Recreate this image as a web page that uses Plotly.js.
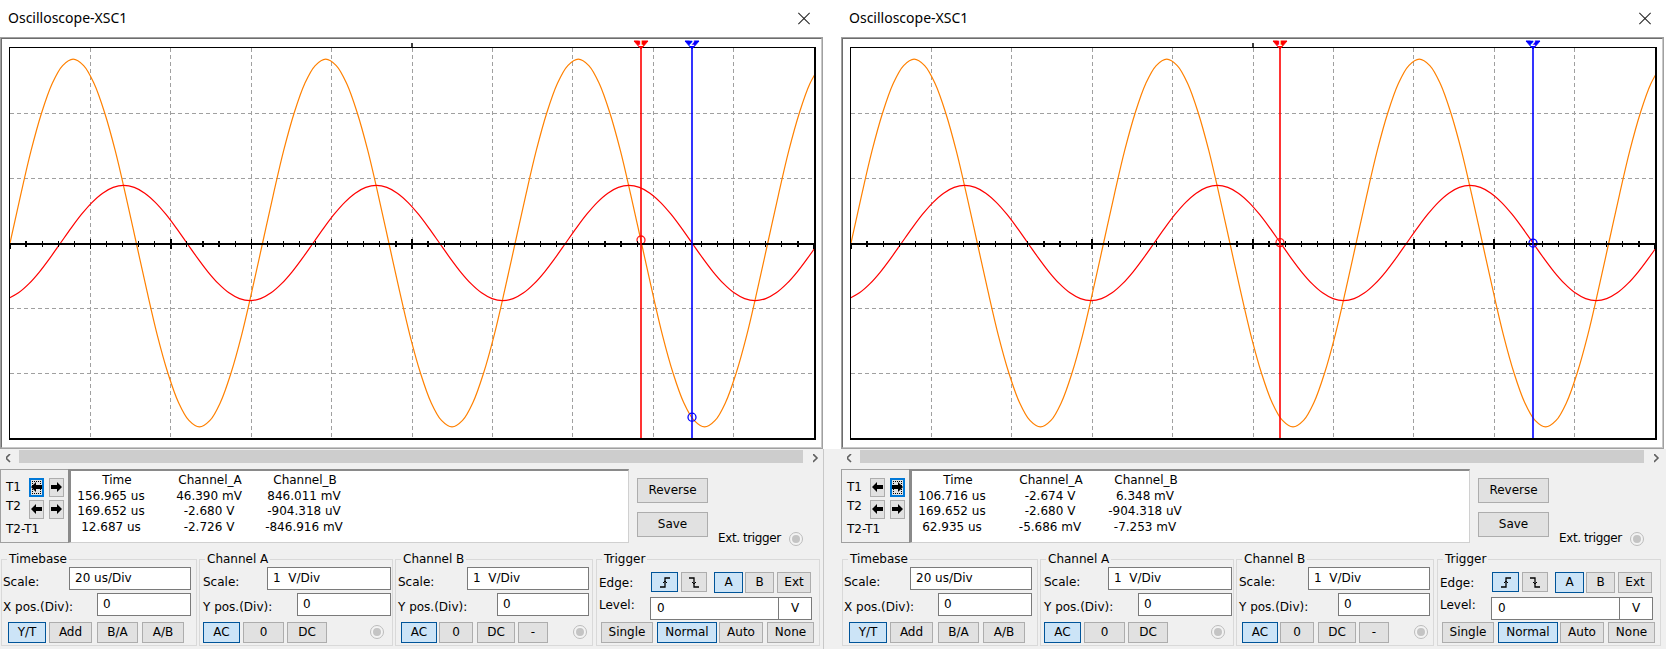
<!DOCTYPE html>
<html><head><meta charset="utf-8">
<script src="https://cdn.plot.ly/plotly-3.0.1.min.js"></script>
<style>
html,body{margin:0;padding:0;}
body{width:1666px;height:649px;overflow:hidden;background:#fff;position:relative;font-family:"DejaVu Sans",sans-serif;font-size:12px;color:#000;}
.a{position:absolute;box-sizing:border-box;}
.t{position:absolute;white-space:pre;height:16px;line-height:16px;}
.btn{position:absolute;box-sizing:border-box;background:#e1e1e1;border:1px solid #adadad;text-align:center;white-space:pre;}
.sel{background:#cce4f7;border:1px solid #005499;}
.inp{position:absolute;box-sizing:border-box;background:#fff;border:1px solid #7a7a7a;white-space:pre;}
.grp{position:absolute;box-sizing:border-box;border:1px solid #d9d9d9;}
</style></head><body>
<div id="bg" style="position:absolute;left:0;top:0;width:1666px;height:649px;z-index:0"></div>
<div id="plot" style="position:absolute;left:0;top:0;width:1666px;height:649px;z-index:1"></div>
<div id="ui" style="position:absolute;left:0;top:0;z-index:2"></div>
<script>
// ---------------- data ----------------
const timeRange = [0, 200];          // us (10 div x 20 us/Div)
const voltRange = [-3, 3];           // V  (6 div x 1 V/Div)

// Channel A (orange) samples: time in us, voltage in V
const timeA = [0,2.618,5.236,7.854,10.472,13.090,15.708,18.326,20.944,23.562,26.180,28.798,31.416,34.034,36.652,39.270,41.888,44.506,47.124,49.742,52.360,54.978,57.596,60.214,62.832,65.450,68.068,70.686,73.304,75.922,78.540,81.158,83.776,86.394,89.012,91.630,94.248,96.866,99.484,102.102,104.720,107.338,109.956,112.574,115.192,117.810,120.428,123.046,125.664,128.282,130.900,133.518,136.136,138.754,141.372,143.990,146.608,149.226,151.844,154.462,157.080,159.698,162.316,164.934,167.552,170.170,172.788,175.406,178.024,180.642,183.260,185.878,188.496,191.114,193.732,196.350,198.968,201.586];
const chanA = [0,0.73,1.42,2.00,2.45,2.73,2.83,2.73,2.45,2.00,1.42,0.73,0,-0.73,-1.42,-2.00,-2.45,-2.73,-2.83,-2.73,-2.45,-2.00,-1.42,-0.73,
               0,0.73,1.42,2.00,2.45,2.73,2.83,2.73,2.45,2.00,1.42,0.73,0,-0.73,-1.42,-2.00,-2.45,-2.73,-2.83,-2.73,-2.45,-2.00,-1.42,-0.73,
               0,0.73,1.42,2.00,2.45,2.73,2.83,2.73,2.45,2.00,1.42,0.73,0,-0.73,-1.42,-2.00,-2.45,-2.73,-2.83,-2.73,-2.45,-2.00,-1.42,-0.73,
               0,0.73,1.42,2.00,2.45,2.73];

// Channel B (red) samples
const timeB = [-0.510,2.108,4.726,7.344,9.962,12.580,15.198,17.816,20.434,23.052,25.670,28.288,30.906,33.524,36.142,38.760,41.378,43.996,46.614,49.232,51.850,54.468,57.086,59.704,62.322,64.940,67.558,70.176,72.794,75.412,78.030,80.648,83.266,85.884,88.502,91.120,93.738,96.356,98.974,101.592,104.210,106.828,109.446,112.064,114.682,117.300,119.918,122.536,125.154,127.772,130.390,133.008,135.626,138.244,140.862,143.480,146.098,148.716,151.334,153.952,156.570,159.188,161.806,164.424,167.042,169.660,172.278,174.896,177.514,180.132,182.750,185.368,187.986,190.604,193.222,195.840,198.458,201.076];
const chanB = [-0.856,-0.767,-0.626,-0.443,-0.229,
               0,0.229,0.443,0.626,0.767,0.856,0.886,0.856,0.767,0.626,0.443,0.229,0,-0.229,-0.443,-0.626,-0.767,-0.856,-0.886,-0.856,-0.767,-0.626,-0.443,-0.229,
               0,0.229,0.443,0.626,0.767,0.856,0.886,0.856,0.767,0.626,0.443,0.229,0,-0.229,-0.443,-0.626,-0.767,-0.856,-0.886,-0.856,-0.767,-0.626,-0.443,-0.229,
               0,0.229,0.443,0.626,0.767,0.856,0.886,0.856,0.767,0.626,0.443,0.229,0,-0.229,-0.443,-0.626,-0.767,-0.856,-0.886,-0.856,-0.767,-0.626,-0.443,-0.229,
               0];

// Cursors (T1, T2) in us, and the marked voltage at each cursor
const cursorsLeft  = [156.965, 169.652];
const cursorsRight = [106.716, 169.652];
const markLeft  = [0.04639, -2.680];
const markRight = [0.006348, -0.000904];
const cursorNames = ['1', '2'];

// Readout table
const readoutHeaders = ['Time', 'Channel_A', 'Channel_B'];
const cursorLabels = ['T1', 'T2', 'T2-T1'];
const leftTime  = ['156.965 us', '169.652 us', '12.687 us'];
const leftA     = ['46.390 mV', '-2.680 V', '-2.726 V'];
const leftB     = ['846.011 mV', '-904.318 uV', '-846.916 mV'];
const rightTime = ['106.716 us', '169.652 us', '62.935 us'];
const rightA    = ['-2.674 V', '-2.680 V', '-5.686 mV'];
const rightB    = ['6.348 mV', '-904.318 uV', '-7.253 mV'];

// Control panel texts
const windowTitle = 'Oscilloscope-XSC1';
const timebaseScale = '20 us/Div';
const chAScale = '1  V/Div';
const chBScale = '1  V/Div';
const posValue = '0';
const levelValue = '0';

// ---------------- UI (HTML) ----------------
const bg = document.getElementById('bg');
const ui = document.getElementById('ui');
function add(parent, cls, x, y, w, h, html, css) {
  const d = document.createElement('div');
  d.className = cls;
  d.style.left = x + 'px'; d.style.top = y + 'px';
  if (w != null) d.style.width = w + 'px';
  if (h != null) d.style.height = h + 'px';
  if (html != null) d.innerHTML = html;
  if (css) d.style.cssText += css;
  parent.appendChild(d);
  return d;
}
function txt(x, cy, s, css) { return add(ui, 't', x, cy - 8, null, 16, s, css); }
function ctxt(cx, cy, s) { return add(ui, 't', cx - 100, cy - 8, 200, 16, s, 'text-align:center;'); }
function btn(x, y, w, h, s, sel) { return add(ui, 'btn' + (sel ? ' sel' : ''), x, y, w, h, s, 'line-height:' + (h - 2) + 'px;'); }
function inp(x, y, w, h, s, pad) { return add(ui, 'inp', x, y, w, h, s, 'line-height:' + (h - 2) + 'px;padding-left:' + pad + 'px;'); }
function radio(cx, cy) {
  add(ui, 'a', cx - 7, cy - 7, 14, 14, '', 'border-radius:50%;border:1px solid #bcbcbc;background:#f3f3f3;');
  add(ui, 'a', cx - 4, cy - 4, 8, 8, '', 'border-radius:50%;background:#c4c4c4;');
}
function grp(x, y, w, h, label) {
  add(ui, 'grp', x, y, w, h, '');
  add(ui, 't', x + 6, y - 8, null, 16, label, 'background:#f0f0f0;padding:0 2px;');
}
function arrowSvg(dir) {
  const pts = dir < 0 ? '0,5 5,0 5,3 11,3 11,7 5,7 5,10' : '11,5 6,0 6,3 0,3 0,7 6,7 6,10';
  return '<svg width="11" height="11" style="position:absolute;left:50%;top:50%;margin-left:-5.5px;margin-top:-5.5px"><polygon points="' + pts + '" fill="#000"/></svg>';
}
function arrowBtn(x, y, dir, sel) {
  const d = add(ui, 'btn', x, y, 15, 19, arrowSvg(dir), sel ? 'border:2px solid #0078d7;' : '');
  if (sel) add(d, 'a', 1, 1, 9, 13, '', 'border:1px dotted #000;left:1px;top:1px;');
}
function edgeSvg(rise) {
  const p = rise ? '1,10 6,10 6,1 11,1' : '1,1 6,1 6,10 11,10';
  const tick = rise ? '<polyline points="4,6 6,4 8,6" fill="none" stroke="#000" stroke-width="1"/>' : '<polyline points="4,5 6,7 8,5" fill="none" stroke="#000" stroke-width="1"/>';
  return '<svg width="12" height="11" style="position:absolute;left:50%;top:50%;margin-left:-6px;margin-top:-5.5px"><polyline points="' + p + '" fill="none" stroke="#000" stroke-width="1.3"/>' + tick + '</svg>';
}
function chevron(x, y, left) {
  const p = left ? '4,0 0,4 4,8' : '0,0 4,4 0,8';
  add(bg, 'a', x, y, 6, 9, '<svg width="6" height="9"><polyline points="' + p + '" fill="none" stroke="#606060" stroke-width="1.6"/></svg>', '');
}

// global lower background
add(bg, 'a', 0, 449, 1666, 200, '', 'background:#f0f0f0;');

function buildWindow(ox, times, chA, chB, selArrow) {
  // title bar
  add(bg, 't', ox + 8, 8, null, 20, windowTitle, 'font-family:"Noto Sans";font-size:14px;line-height:20px;height:20px;');
  add(bg, 'a', ox + 796, 17.5, 16, 1, '', 'background:#222;transform:rotate(45deg);');
  add(bg, 'a', ox + 796, 17.5, 16, 1, '', 'background:#222;transform:rotate(-45deg);');
  // screen frame
  add(bg, 'a', ox, 37, 823, 412, '', 'border:1px solid #a0a0a0;background:#fff;');
  add(bg, 'a', ox + 1, 38, 821, 410, '', 'border:1px solid #6d6d6d;border-right-color:#c8c8c8;border-bottom-color:#c8c8c8;');
  // scrollbar
  add(bg, 'a', ox + 19, 450, 784, 13, '', 'background:#cdcdcd;');
  chevron(ox + 6, 452, true);
  chevron(ox + 813, 452, false);
  // cursor box
  add(ui, 'a', ox, 469, 68, 74, '', 'border:1px solid #a0a0a0;border-right:none;');
  txt(ox + 6, 487, cursorLabels[0]);
  txt(ox + 6, 506, cursorLabels[1]);
  txt(ox + 6, 529, cursorLabels[2]);
  arrowBtn(ox + 29, 478, -1, selArrow === 0);
  arrowBtn(ox + 49, 478, 1, selArrow === 1);
  arrowBtn(ox + 29, 500, -1, false);
  arrowBtn(ox + 49, 500, 1, false);
  // readout box
  add(ui, 'a', ox + 68, 469, 561, 74, '', 'background:#fff;border:1px solid #d0d0d0;border-left:3px solid #8a8a8a;border-top:2px solid #8a8a8a;');
  const hc = [117, 210, 305], vc = [111, 209, 304], rows = [496, 511, 527];
  readoutHeaders.forEach((h, i) => ctxt(ox + hc[i], 480, h));
  [times, chA, chB].forEach((col, i) => col.forEach((s, r) => ctxt(ox + vc[i], rows[r], s)));
  // buttons
  btn(ox + 637, 478, 71, 25, 'Reverse', false);
  btn(ox + 637, 512, 71, 25, 'Save', false);
  txt(ox + 718, 538, 'Ext. trigger', 'letter-spacing:-0.4px;');
  radio(ox + 796, 539);
  // Timebase
  grp(ox + 1, 559, 196, 87, 'Timebase');
  txt(ox + 3, 582, 'Scale:');
  inp(ox + 69, 567, 122, 23, timebaseScale, 5);
  txt(ox + 3, 607, 'X pos.(Div):');
  inp(ox + 97, 593, 94, 23, posValue, 5);
  btn(ox + 8, 622, 38, 21, 'Y/T', true);
  btn(ox + 49, 622, 43, 21, 'Add', false);
  btn(ox + 97, 622, 41, 21, 'B/A', false);
  btn(ox + 142, 622, 42, 21, 'A/B', false);
  // Channel A
  grp(ox + 199, 559, 194, 87, 'Channel A');
  txt(ox + 203, 582, 'Scale:');
  inp(ox + 267, 567, 124, 23, chAScale, 5);
  txt(ox + 203, 607, 'Y pos.(Div):');
  inp(ox + 297, 593, 94, 23, posValue, 5);
  btn(ox + 203, 622, 37, 21, 'AC', true);
  btn(ox + 243, 622, 41, 21, '0', false);
  btn(ox + 287, 622, 40, 21, 'DC', false);
  radio(ox + 377, 632);
  // Channel B
  grp(ox + 395, 559, 198, 87, 'Channel B');
  txt(ox + 398, 582, 'Scale:');
  inp(ox + 467, 567, 122, 23, chBScale, 5);
  txt(ox + 398, 607, 'Y pos.(Div):');
  inp(ox + 497, 593, 92, 23, posValue, 5);
  btn(ox + 401, 622, 36, 21, 'AC', true);
  btn(ox + 439, 622, 34, 21, '0', false);
  btn(ox + 477, 622, 38, 21, 'DC', false);
  btn(ox + 518, 622, 30, 21, '-', false);
  radio(ox + 580, 632);
  // Trigger
  grp(ox + 596, 559, 224, 87, 'Trigger');
  txt(ox + 599, 583, 'Edge:');
  btn(ox + 651, 572, 27, 20, edgeSvg(true), true);
  btn(ox + 681, 572, 26, 20, edgeSvg(false), false);
  btn(ox + 714, 572, 29, 21, 'A', true);
  btn(ox + 745, 572, 29, 21, 'B', false);
  btn(ox + 777, 572, 34, 21, 'Ext', false);
  txt(ox + 599, 605, 'Level:');
  inp(ox + 650, 597, 129, 23, levelValue, 6);
  add(ui, 'inp', ox + 778, 597, 34, 23, 'V', 'line-height:21px;text-align:center;');
  btn(ox + 601, 622, 52, 21, 'Single', false);
  btn(ox + 657, 622, 60, 21, 'Normal', true);
  btn(ox + 719, 622, 44, 21, 'Auto', false);
  btn(ox + 767, 622, 47, 21, 'None', false);
}
buildWindow(0, leftTime, leftA, leftB, 0);
buildWindow(841, rightTime, rightA, rightB, 1);
add(bg, 'a', 823, 449, 1, 200, '', 'background:#c8c8c8;');

// ---------------- Plotly chart ----------------
const W = 1666, H = 649;
const xd1 = [10 / W, 814 / W], xd2 = [851 / W, 1655 / W];
const yd = [1 - 438 / H, 1 - 48 / H];
const plotHpx = 390;
const zeroPos = yd[0] + (0 - voltRange[0]) / (voltRange[1] - voltRange[0]) * (yd[1] - yd[0]);

function mainX(dom) {
  return {domain: dom, range: timeRange, dtick: 20, tick0: 0, showgrid: true, gridcolor: '#a0a0a0', griddash: '4px,3px', gridwidth: 1,
          zeroline: false, showline: true, mirror: true, linecolor: '#000', linewidth: 1.5, ticks: '', showticklabels: false, fixedrange: true};
}
function mainY(anchor) {
  return {domain: yd, anchor: anchor, range: voltRange, dtick: 1, tick0: 0, showgrid: true, gridcolor: '#a0a0a0', griddash: '4px,3px', gridwidth: 1,
          zeroline: false, showline: true, mirror: true, linecolor: '#000', linewidth: 1.5, ticks: '', showticklabels: false, fixedrange: true};
}
function centerAxis(overlay, dir) {
  return {overlaying: overlay, anchor: 'free', position: zeroPos, range: timeRange, showgrid: false, zeroline: false,
          showline: true, linecolor: '#000', linewidth: 1.6, ticks: dir, ticklen: 4, tickwidth: 1.4, tickcolor: '#000', dtick: 20, tick0: 0,
          minor: {dtick: 4, tick0: 0, ticks: dir, ticklen: 2.5, tickwidth: 1.2, tickcolor: '#000'},
          showticklabels: false, fixedrange: true, side: 'bottom'};
}

const traces = [];
const shapes = [];
const annotations = [];
function panel(xa, ya, cursors, marks, axOut, axIn) {
  traces.push({x: [timeRange[0]], y: [0], xaxis: axOut, yaxis: ya, mode: 'none', hoverinfo: 'skip', showlegend: false});
  traces.push({x: [timeRange[0]], y: [0], xaxis: axIn, yaxis: ya, mode: 'none', hoverinfo: 'skip', showlegend: false});
  traces.push({x: timeA, y: chanA, xaxis: xa, yaxis: ya, mode: 'lines', line: {color: '#ff8000', width: 1.2, shape: 'spline', smoothing: 1}, hoverinfo: 'skip'});
  traces.push({x: timeB, y: chanB, xaxis: xa, yaxis: ya, mode: 'lines', line: {color: '#ff0000', width: 1.2, shape: 'spline', smoothing: 1}, hoverinfo: 'skip'});
  traces.push({x: cursors, y: marks, xaxis: xa, yaxis: ya, mode: 'markers',
               marker: {symbol: 'circle-open', size: 8, color: ['#ff2020', '#0000ff'], line: {width: 1.3}}, hoverinfo: 'skip'});
  const cc = ['#ff0000', '#0000ff'];
  cursors.forEach((c, i) => {
    shapes.push({type: 'line', xref: xa, yref: ya + ' domain', x0: c, x1: c, y0: 0, y1: 1, line: {color: cc[i], width: 1.6}});
    // cursor flag: pixel-sized path anchored at the cursor time, on top edge of the plot
    shapes.push({type: 'path', xref: xa, yref: ya + ' domain', xsizemode: 'pixel', ysizemode: 'pixel', xanchor: c, yanchor: 1,
                 path: 'M-7,7 L7,7 L0,-1 Z', fillcolor: cc[i], line: {color: cc[i], width: 1}});
    annotations.push({xref: xa, yref: ya + ' domain', x: c, y: 1, yshift: 4, showarrow: false, text: '<b>' + cursorNames[i] + '</b>',
                      font: {color: '#ffffff', size: 8, family: 'DejaVu Sans'}, xanchor: 'center', yanchor: 'middle'});
  });
  const mid = (timeRange[0] + timeRange[1]) / 2;
  shapes.push({type: 'line', xref: xa, yref: ya + ' domain', x0: mid, x1: mid, y0: 1, y1: 1 + 5 / plotHpx, line: {color: '#000', width: 1.5}});
}
panel('x', 'y', cursorsLeft, markLeft, 'x3', 'x4');
panel('x2', 'y2', cursorsRight, markRight, 'x5', 'x6');

const layout = {
  width: W, height: H, margin: {l: 0, r: 0, t: 0, b: 0, pad: 0},
  paper_bgcolor: 'rgba(0,0,0,0)', plot_bgcolor: '#ffffff', showlegend: false,
  xaxis: Object.assign(mainX(xd1), {anchor: 'y'}),
  yaxis: mainY('x'),
  xaxis2: Object.assign(mainX(xd2), {anchor: 'y2'}),
  yaxis2: mainY('x2'),
  xaxis3: centerAxis('x', 'outside'),
  xaxis4: centerAxis('x', 'inside'),
  xaxis5: centerAxis('x2', 'outside'),
  xaxis6: centerAxis('x2', 'inside'),
  shapes: shapes,
  annotations: annotations
};
Plotly.newPlot('plot', traces, layout, {staticPlot: true, displayModeBar: false});
</script>
</body></html>
